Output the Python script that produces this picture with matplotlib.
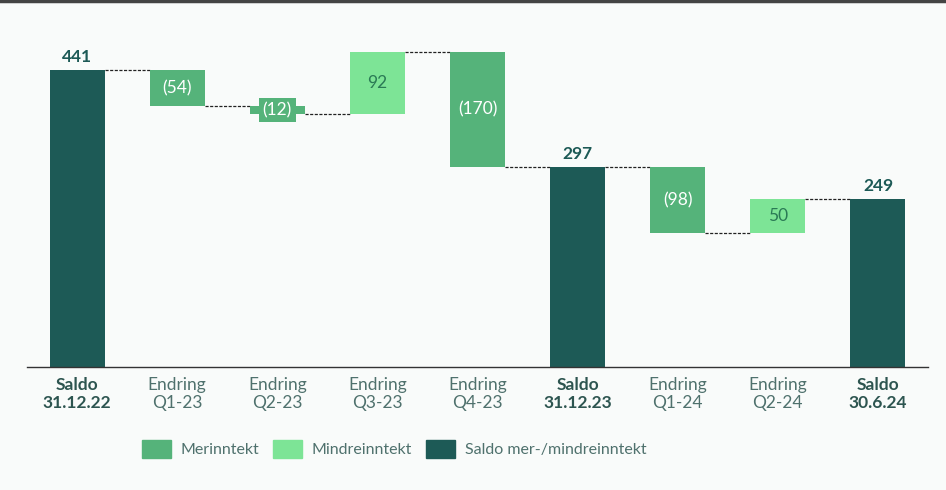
import numpy as np
import matplotlib.pyplot as plt
from matplotlib.patches import Patch

plt.rcParams['font.family'] = ['Lato', 'DejaVu Sans']

kategorier = ['Saldo\n31.12.22', 'Endring\nQ1-23', 'Endring\nQ2-23', 'Endring\nQ3-23',
              'Endring\nQ4-23', 'Saldo\n31.12.23', 'Endring\nQ1-24', 'Endring\nQ2-24',
              'Saldo\n30.6.24']
verdier = [441, -54, -12, 92, -170, 297, -98, 50, 249]
er_saldo = [True, False, False, False, False, True, False, False, True]

c_mer = '#55b37a'
c_mindre = '#7de496'
c_saldo = '#1d5a56'
bg = '#f9fbfa'

fig = plt.figure(figsize=(9.46, 4.90), dpi=100, facecolor=bg)
ax = fig.add_axes([27/946, 0.251, (928-27)/946, 0.708])
ax.set_facecolor(bg)

bunn = []
topp = []
farger = []
nivaa = 0
for v, s in zip(verdier, er_saldo):
    if s:
        bunn.append(0)
        topp.append(v)
        farger.append(c_saldo)
        nivaa = v
    else:
        ny = nivaa + v
        bunn.append(min(nivaa, ny))
        topp.append(max(nivaa, ny))
        farger.append(c_mer if v < 0 else c_mindre)
        nivaa = ny

x = np.arange(len(verdier))
b = 0.55
hoyde = [t - u for t, u in zip(topp, bunn)]
ax.bar(x, hoyde, bottom=bunn, width=b, color=farger, zorder=2)

# stiplede linjer mellom stolpene
nivaa = 0
for i, (v, s) in enumerate(zip(verdier, er_saldo)):
    nivaa = v if s else nivaa + v
    if i < len(verdier) - 1:
        ax.plot([i + b/2, i + 1 - b/2], [nivaa, nivaa], color='#222222',
                lw=0.9, ls=(0, (2.5, 1.2)), zorder=1)

for i, v in enumerate(verdier):
    if er_saldo[i]:
        ax.text(i, topp[i] + 8, str(v), ha='center', va='bottom', fontsize=12.5,
                fontweight='bold', color=c_saldo)
    else:
        tekst = f'({-v})' if v < 0 else str(v)
        farge = 'white' if v < 0 else '#2a7a55'
        midt = (topp[i] + bunn[i]) / 2
        if hoyde[i] < 20:
            ax.text(i, midt, tekst, ha='center', va='center', fontsize=12.5, color=farge,
                    bbox=dict(boxstyle='square,pad=0.22', fc=farger[i], ec='none'), zorder=3)
        else:
            ax.text(i, midt, tekst, ha='center', va='center', fontsize=12.5, color=farge, zorder=3)

ax.set_xlim(-0.5, 8.5)
ax.set_ylim(0, 515)
ax.set_yticks([])
ax.set_xticks(x)
ax.set_xticklabels(kategorier, fontsize=12.5, linespacing=1.2)
for lab, s in zip(ax.get_xticklabels(), er_saldo):
    if s:
        lab.set_fontweight('bold')
        lab.set_color('#2d5550')
    else:
        lab.set_color('#4f716d')
ax.tick_params(axis='x', length=0, pad=7)
for side in ['top', 'right', 'left']:
    ax.spines[side].set_visible(False)
ax.spines['bottom'].set_color('#333333')
ax.spines['bottom'].set_linewidth(1.0)

handles = [Patch(color=c_mer, label='Merinntekt'),
           Patch(color=c_mindre, label='Mindreinntekt'),
           Patch(color=c_saldo, label='Saldo mer-/mindreinntekt')]
leg = fig.legend(handles=handles, loc='center', bbox_to_anchor=(394/946, 1 - 449/490),
                 ncol=3, frameon=False, fontsize=11.5, handlelength=1.8, handleheight=1.3,
                 columnspacing=0.9, handletextpad=0.6)
for t in leg.get_texts():
    t.set_color('#4f716d')

fig.add_artist(plt.Line2D([0, 1], [0.998, 0.998], color='#444444', lw=2.5,
                          transform=fig.transFigure))

fig.savefig('out.png', dpi=100, facecolor=bg)
